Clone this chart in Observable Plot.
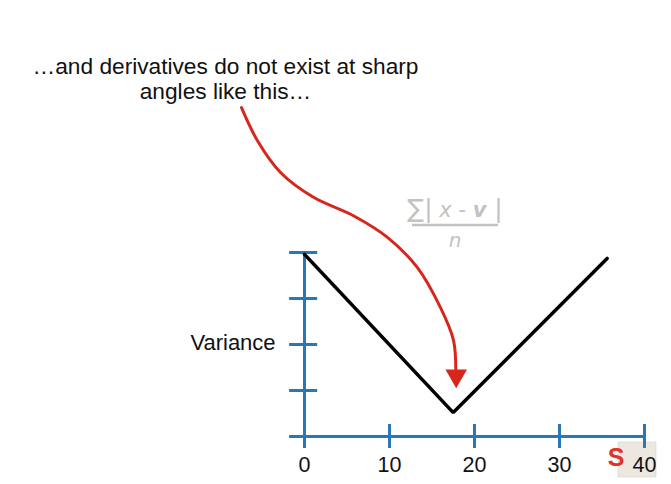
<!DOCTYPE html>
<html><head><meta charset="utf-8">
<script src="https://cdn.jsdelivr.net/npm/d3@7"></script>
<script src="https://cdn.jsdelivr.net/npm/@observablehq/plot@0.6"></script>
<style>body{margin:0;background:#fff;overflow:hidden}</style>
</head><body><div id="chart"></div>
<script>
// data
const xTicks = [0, 10, 20, 30, 40];
const yTicks = [0, 1, 2, 3, 4];
const vX = [0, 17.5, 35.6];
const vY = [3.96, 0.52, 3.87];
// annotation arrow path (in data units)
const arrowX = [-7.41, -5.53, -2.82, 1.06, 5.76, 9.76, 13.29, 16.0, 17.53, 17.8];
const arrowY = [7.15, 6.43, 5.74, 5.20, 4.80, 4.33, 3.67, 2.80, 2.09, 1.40];
const arrowHead = {x: 17.85, y: 1.32};
const titleLines = ["…and derivatives do not exist at sharp", "angles like this…"];
const yLabel = "Variance";

const blue = "#2878b8";
const font = "Liberation Sans, Arial, Helvetica, sans-serif";
const vLine = vX.map((x, i) => ({x, y: vY[i]}));
const arrowPts = arrowX.map((x, i) => ({x, y: arrowY[i]}));

const chart = Plot.plot({
  width: 671, height: 484,
  marginTop: 0, marginRight: 0, marginBottom: 0, marginLeft: 0,
  x: {domain: [0, 40], range: [304, 644], axis: null},
  y: {domain: [0, 4], range: [436, 252], axis: null},
  style: {fontFamily: font, background: "#fff"},
  marks: [
    // axis lines
    Plot.ruleX([0], {y1: -0.26, y2: 4, stroke: blue, strokeWidth: 3}),
    Plot.ruleY([0], {x1: -1.65, x2: 40, stroke: blue, strokeWidth: 3}),
    // ticks
    Plot.ruleY(yTicks, {x1: -1.75, x2: 1.55, stroke: blue, strokeWidth: 3}),
    Plot.ruleX(xTicks.slice(1), {y1: -0.26, y2: 0.26, stroke: blue, strokeWidth: 3}),
    Plot.text(xTicks, {x: d => d, y: -0.62, text: d => String(d), fontSize: 21.5, fill: "#111"}),
    Plot.text([yLabel], {x: -3.4, y: 2.03, text: d => d, textAnchor: "end", fontSize: 22, fill: "#111"}),
    // V curve
    Plot.line(vLine, {x: "x", y: "y", stroke: "#000", strokeWidth: 3.5, strokeLinejoin: "miter"}),
    // annotation arrow
    Plot.line(arrowPts, {x: "x", y: "y", curve: "catmull-rom", stroke: "#d9261c", strokeWidth: 3}),
    Plot.dot([arrowHead], {x: "x", y: "y", symbol: "triangle", r: 8, rotate: 180, fill: "#d9261c", stroke: "none"}),
    // title
    Plot.text([titleLines[0]], {frameAnchor: "top-left", dx: 225, dy: 66, textAnchor: "middle", lineAnchor: "middle", text: d => d, fontSize: 22.7, fill: "#111"}),
    Plot.text([titleLines[1]], {frameAnchor: "top-left", dx: 225, dy: 91, textAnchor: "middle", lineAnchor: "middle", text: d => d, fontSize: 22.7, fill: "#111"})
  ]
});
document.getElementById("chart").append(chart);

// formula annotation (gray)
const svg = d3.select(chart);
const g = svg.append("g").attr("fill", "#c2c2c2").attr("font-family", "DejaVu Sans, sans-serif");
const num = g.append("text").attr("x", 455).attr("y", 217).attr("text-anchor", "middle").attr("font-size", 21);
num.append("tspan").text("∑").attr("font-size", 25);
num.append("tspan").text("|").attr("font-size", 25);
num.append("tspan").text(" x - ").attr("font-style", "italic");
num.append("tspan").text("v").attr("font-style", "italic").attr("font-weight", "bold");
num.append("tspan").text(" |").attr("font-size", 25);
g.append("line").attr("x1", 412).attr("x2", 498).attr("y1", 225).attr("y2", 225).attr("stroke", "#c2c2c2").attr("stroke-width", 2.5);
g.append("text").attr("x", 455).attr("y", 247).attr("text-anchor", "middle").attr("font-size", 20).attr("font-style", "italic").text("n");

// small logo badge (behind the last tick label)
const lg = svg.insert("g", ":first-child");
lg.append("rect").attr("x", 618).attr("y", 442).attr("width", 38).attr("height", 35).attr("fill", "#ece8df").attr("stroke", "#d0ccc4").attr("stroke-width", 0.5);
lg.append("text").attr("x", 616).attr("y", 466).attr("font-size", 25).attr("font-weight", "bold").attr("fill", "#e0332b").attr("font-family", font).text("S");
</script>
</body></html>
